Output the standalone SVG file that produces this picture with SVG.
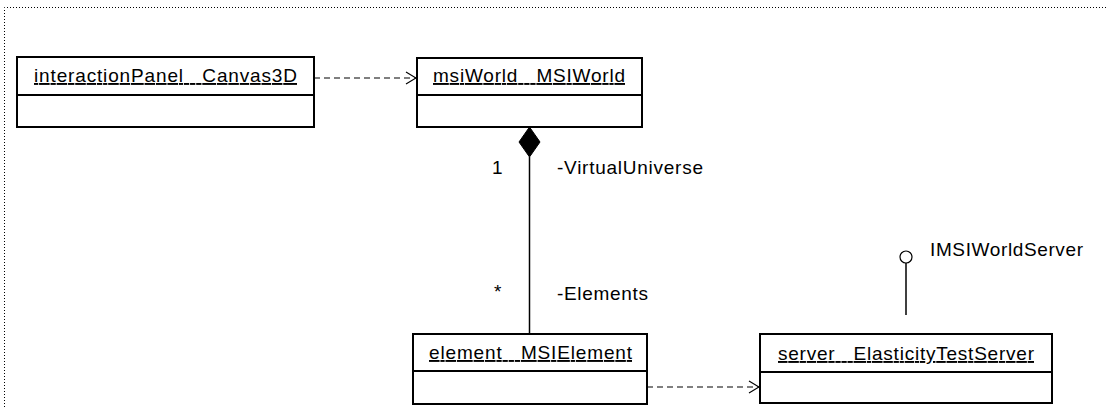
<svg xmlns="http://www.w3.org/2000/svg" width="1107" height="407" viewBox="0 0 1107 407">
<defs>
<style>
.box{fill:#fff;stroke:#000;stroke-width:2}
.div{stroke:#000;stroke-width:2}
.t{font-family:"Liberation Sans",Arial,sans-serif;font-size:19px;fill:#000;white-space:pre}
.u{text-decoration:underline}
.dash{fill:none;stroke:#000;stroke-width:1.2;stroke-dasharray:6,4}
.line{fill:none;stroke:#000;stroke-width:1.5}
.frame{fill:none;stroke:#000;stroke-width:1;stroke-dasharray:1,2}
</style>
<marker id="open" viewBox="0 0 12 14" refX="11" refY="7" markerWidth="12" markerHeight="14" markerUnits="userSpaceOnUse" orient="auto">
<path d="M1,1 L11,7 L1,13" fill="none" stroke="#000" stroke-width="1.2"/>
</marker>
</defs>
<rect width="1107" height="407" fill="#fff"/>
<path class="frame" d="M4.5,407 V7.5 H1107"/>
<g id="interactionPanel">
<rect class="box" x="17" y="57" width="297" height="70"/>
<line class="div" x1="17" y1="95" x2="314" y2="95"/>
<text class="t u" x="34" y="82" textLength="263" lengthAdjust="spacing" xml:space="preserve">interactionPanel   Canvas3D</text>
</g>
<g id="msiWorld">
<rect class="box" x="417" y="58" width="225" height="69"/>
<line class="div" x1="417" y1="95" x2="642" y2="95"/>
<text class="t u" x="433" y="82" textLength="192" lengthAdjust="spacing" xml:space="preserve">msiWorld   MSIWorld</text>
</g>
<g id="element">
<rect class="box" x="413" y="334" width="234" height="70"/>
<line class="div" x1="413" y1="371" x2="647" y2="371"/>
<text class="t u" x="429" y="359" textLength="203" lengthAdjust="spacing" xml:space="preserve">element   MSIElement</text>
</g>
<g id="server">
<rect class="box" x="760" y="334" width="292" height="69"/>
<line class="div" x1="760" y1="372" x2="1052" y2="372"/>
<text class="t u" x="778" y="360" textLength="256" lengthAdjust="spacing" xml:space="preserve">server   ElasticityTestServer</text>
</g>
<g id="IMSIWorldServer">
<circle cx="906" cy="257" r="6" fill="#fff" stroke="#000" stroke-width="1.2"/>
<text class="t" x="930" y="256" textLength="153" lengthAdjust="spacing">IMSIWorldServer</text>
</g>
<g id="connectors">
<line class="dash" x1="314" y1="78" x2="416" y2="78" marker-end="url(#open)"/>
<line class="dash" x1="647" y1="387" x2="759" y2="387" marker-end="url(#open)"/>
<line class="line" x1="529.5" y1="157" x2="529.5" y2="334"/>
<path d="M529.5,127 L540,142 L529.5,157 L519,142 Z" fill="#000" stroke="#000" stroke-width="1"/>
<line class="line" x1="906" y1="263" x2="906" y2="315"/>
<text class="t" x="492" y="174">1</text>
<text class="t" x="557" y="174" textLength="146" lengthAdjust="spacing">-VirtualUniverse</text>
<text class="t" x="494" y="298">*</text>
<text class="t" x="557" y="300" textLength="91" lengthAdjust="spacing">-Elements</text>
</g>
</svg>
